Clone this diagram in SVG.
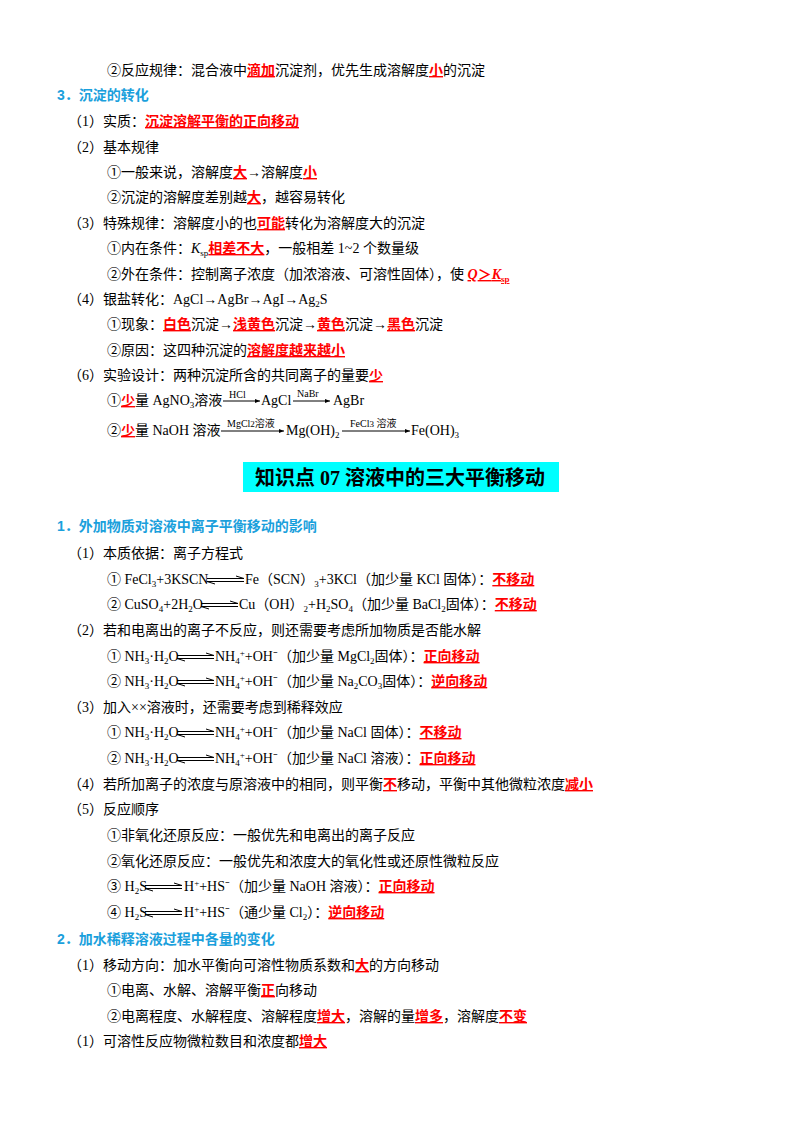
<svg xmlns="http://www.w3.org/2000/svg" width="800" height="1132" viewBox="0 0 800 1132">
<style>
text{font-family:"Liberation Serif","Noto Sans CJK SC",serif;font-size:14px;fill:#000}
.h{fill:#1aa0dc;font-weight:bold;font-family:"Liberation Sans","Noto Sans CJK SC",sans-serif}
.r{fill:#ff0000;font-weight:bold;text-decoration:underline}
.s{font-size:9px}
.l{font-size:10px}
.t{font-size:20px;font-weight:bold}
.ar{stroke:#000;stroke-width:1;fill:none}
</style>
<defs>
<marker id="ah" markerWidth="6" markerHeight="6" refX="5" refY="3" orient="auto"><path d="M0,1 L5,3 L0,5z" fill="#000"/></marker>
<g id="eq"><path class="ar" d="M0,-5.5 H37 M29,-8 L37,-5.5 M0,-2.5 H37 M0,-2.5 L8,0"/></g>
</defs>
<rect width="800" height="1132" fill="#fff"/>
<text x="107" y="75">②反应规律：混合液中<tspan class="r">滴加</tspan>沉淀剂，优先生成溶解度<tspan class="r">小</tspan>的沉淀</text>
<text x="57" y="100" class="h">3．沉淀的转化</text>
<text x="68" y="126">（1）实质：<tspan class="r">沉淀溶解平衡的正向移动</tspan></text>
<text x="68" y="152">（2）基本规律</text>
<text x="107" y="177">①一般来说，溶解度<tspan class="r">大</tspan>→溶解度<tspan class="r">小</tspan></text>
<text x="107" y="202">②沉淀的溶解度差别越<tspan class="r">大</tspan>，越容易转化</text>
<text x="68" y="228">（3）特殊规律：溶解度小的也<tspan class="r">可能</tspan>转化为溶解度大的沉淀</text>
<text x="107" y="253">①内在条件：<tspan font-style="italic">K</tspan><tspan class="s" dy="3">sp</tspan><tspan dy="-3" class="r">相差不大</tspan>，一般相差 1~2 个数量级</text>
<text x="107" y="279">②外在条件：控制离子浓度（加浓溶液、可溶性固体），使 <tspan class="r" font-style="italic">Q</tspan><tspan class="r">＞</tspan><tspan class="r" font-style="italic">K</tspan><tspan class="r s" dy="3">sp</tspan></text>
<text x="68" y="304">（4）银盐转化：AgCl→AgBr→AgI→Ag<tspan class="s" dy="3">2</tspan><tspan dy="-3">S</tspan></text>
<text x="107" y="329">①现象：<tspan class="r">白色</tspan>沉淀→<tspan class="r">浅黄色</tspan>沉淀→<tspan class="r">黄色</tspan>沉淀→<tspan class="r">黑色</tspan>沉淀</text>
<text x="107" y="355">②原因：这四种沉淀的<tspan class="r">溶解度越来越小</tspan></text>
<text x="68" y="380">（6）实验设计：两种沉淀所含的共同离子的量要<tspan class="r">少</tspan></text>
<g id="conv">
<text x="107" y="405">①<tspan class="r">少</tspan>量 AgNO<tspan class="s" dy="3">3</tspan><tspan dy="-3">溶液</tspan></text>
<line class="ar" x1="223" y1="401" x2="260" y2="401" marker-end="url(#ah)"/>
<text x="229" y="398" class="l">HCl</text>
<text x="261" y="405">AgCl</text>
<line class="ar" x1="293" y1="401" x2="330" y2="401" marker-end="url(#ah)"/>
<text x="297" y="397" class="l">NaBr</text>
<text x="333" y="405">AgBr</text>
<text x="107" y="435">②<tspan class="r">少</tspan>量 NaOH 溶液</text>
<line class="ar" x1="221" y1="431" x2="284" y2="431" marker-end="url(#ah)"/>
<text x="227" y="427" class="l">MgCl<tspan class="s">2</tspan>溶液</text>
<text x="286" y="435">Mg(OH)<tspan class="s" dy="3">2</tspan></text>
<line class="ar" x1="342" y1="431" x2="410" y2="431" marker-end="url(#ah)"/>
<text x="350" y="427" class="l">FeCl<tspan class="s">3</tspan> 溶液</text>
<text x="411" y="435">Fe(OH)<tspan class="s" dy="3">3</tspan></text>
</g>
<rect x="243" y="462" width="316" height="30" fill="#00ffff"/>
<text x="400" y="485" text-anchor="middle" class="t">知识点 07  溶液中的三大平衡移动</text>
<text x="57" y="531" class="h">1．外加物质对溶液中离子平衡移动的影响</text>
<text x="68" y="558">（1）本质依据：离子方程式</text>
<text x="107" y="584">① FeCl<tspan class="s" dy="3">3</tspan><tspan dy="-3">+3KSCN</tspan></text>
<use href="#eq" x="207" y="584"/>
<text x="245" y="584">Fe（SCN）<tspan class="s" dy="3">3</tspan><tspan dy="-3">+3KCl（加少量 KCl 固体）：</tspan><tspan class="r">不移动</tspan></text>
<text x="107" y="609">② CuSO<tspan class="s" dy="3">4</tspan><tspan dy="-3">+2H</tspan><tspan class="s" dy="3">2</tspan><tspan dy="-3">O</tspan></text>
<use href="#eq" x="201" y="609"/>
<text x="239" y="609">Cu（OH）<tspan class="s" dy="3">2</tspan><tspan dy="-3">+H</tspan><tspan class="s" dy="3">2</tspan><tspan dy="-3">SO</tspan><tspan class="s" dy="3">4</tspan><tspan dy="-3">（加少量 BaCl</tspan><tspan class="s" dy="3">2</tspan><tspan dy="-3">固体）：</tspan><tspan class="r">不移动</tspan></text>
<text x="68" y="635">（2）若和电离出的离子不反应，则还需要考虑所加物质是否能水解</text>
<text x="107" y="661">① NH<tspan class="s" dy="3">3</tspan><tspan dy="-3">·H</tspan><tspan class="s" dy="3">2</tspan><tspan dy="-3">O</tspan></text>
<use href="#eq" x="177" y="661"/>
<text x="215" y="661">NH<tspan class="s" dy="3">4</tspan><tspan class="s" dy="-8">+</tspan><tspan dy="5">+OH⁻（加少量 MgCl</tspan><tspan class="s" dy="3">2</tspan><tspan dy="-3">固体）：</tspan><tspan class="r">正向移动</tspan></text>
<text x="107" y="686">② NH<tspan class="s" dy="3">3</tspan><tspan dy="-3">·H</tspan><tspan class="s" dy="3">2</tspan><tspan dy="-3">O</tspan></text>
<use href="#eq" x="177" y="686"/>
<text x="215" y="686">NH<tspan class="s" dy="3">4</tspan><tspan class="s" dy="-8">+</tspan><tspan dy="5">+OH⁻（加少量 Na</tspan><tspan class="s" dy="3">2</tspan><tspan dy="-3">CO</tspan><tspan class="s" dy="3">3</tspan><tspan dy="-3">固体）：</tspan><tspan class="r">逆向移动</tspan></text>
<text x="68" y="712">（3）加入××溶液时，还需要考虑到稀释效应</text>
<text x="107" y="737">① NH<tspan class="s" dy="3">3</tspan><tspan dy="-3">·H</tspan><tspan class="s" dy="3">2</tspan><tspan dy="-3">O</tspan></text>
<use href="#eq" x="177" y="737"/>
<text x="215" y="737">NH<tspan class="s" dy="3">4</tspan><tspan class="s" dy="-8">+</tspan><tspan dy="5">+OH⁻（加少量 NaCl 固体）：</tspan><tspan class="r">不移动</tspan></text>
<text x="107" y="763">② NH<tspan class="s" dy="3">3</tspan><tspan dy="-3">·H</tspan><tspan class="s" dy="3">2</tspan><tspan dy="-3">O</tspan></text>
<use href="#eq" x="177" y="763"/>
<text x="215" y="763">NH<tspan class="s" dy="3">4</tspan><tspan class="s" dy="-8">+</tspan><tspan dy="5">+OH⁻（加少量 NaCl 溶液）：</tspan><tspan class="r">正向移动</tspan></text>
<text x="68" y="789">（4）若所加离子的浓度与原溶液中的相同，则平衡<tspan class="r">不</tspan>移动，平衡中其他微粒浓度<tspan class="r">减小</tspan></text>
<text x="68" y="814">（5）反应顺序</text>
<text x="107" y="840">①非氧化还原反应：一般优先和电离出的离子反应</text>
<text x="107" y="866">②氧化还原反应：一般优先和浓度大的氧化性或还原性微粒反应</text>
<text x="107" y="891">③ H<tspan class="s" dy="3">2</tspan><tspan dy="-3">S</tspan></text>
<use href="#eq" x="145" y="891"/>
<text x="184" y="891">H<tspan class="s" dy="-5">+</tspan><tspan dy="5">+HS⁻（加少量 NaOH 溶液）：</tspan><tspan class="r">正向移动</tspan></text>
<text x="107" y="917">④ H<tspan class="s" dy="3">2</tspan><tspan dy="-3">S</tspan></text>
<use href="#eq" x="145" y="917"/>
<text x="184" y="917">H<tspan class="s" dy="-5">+</tspan><tspan dy="5">+HS⁻（通少量 Cl</tspan><tspan class="s" dy="3">2</tspan><tspan dy="-3">）：</tspan><tspan class="r">逆向移动</tspan></text>
<text x="57" y="944" class="h">2．加水稀释溶液过程中各量的变化</text>
<text x="68" y="970">（1）移动方向：加水平衡向可溶性物质系数和<tspan class="r">大</tspan>的方向移动</text>
<text x="107" y="995">①电离、水解、溶解平衡<tspan class="r">正</tspan>向移动</text>
<text x="107" y="1021">②电离程度、水解程度、溶解程度<tspan class="r">增大</tspan>，溶解的量<tspan class="r">增多</tspan>，溶解度<tspan class="r">不变</tspan></text>
<text x="68" y="1046">（1）可溶性反应物微粒数目和浓度都<tspan class="r">增大</tspan></text>
</svg>
